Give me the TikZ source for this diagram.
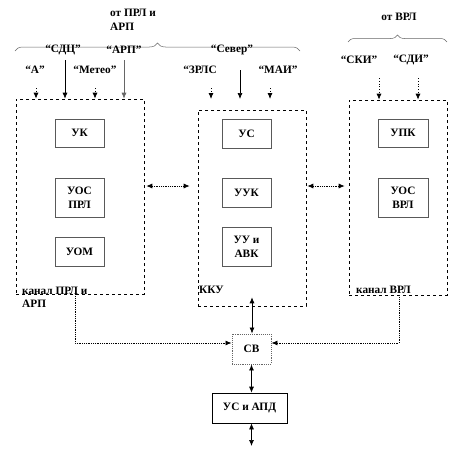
\documentclass[tikz,border=0pt]{standalone}
\usepackage{fontspec}
\setmainfont{Liberation Serif}
\usetikzlibrary{arrows.meta,decorations.pathreplacing,calc}
\begin{document}
\begin{tikzpicture}[x=1pt,y=-1pt,
  font=\bfseries\fontsize{11.3}{14}\selectfont,
  blk/.style={draw=black!65, line width=0.9pt, fill=white, align=center, inner sep=1pt},
  grp/.style={draw, dashed, line width=0.6pt, inner sep=0pt},
  tip/.style={-{Latex[length=6pt,width=5pt]}},
  dtip/.style={{Latex[length=6pt,width=5pt]}-{Latex[length=6pt,width=5pt]}},
  dotl/.style={dotted, line width=0.8pt},
  fdot/.style={densely dotted, line width=0.8pt},
  soll/.style={line width=0.7pt},
  lbl/.style={inner sep=0pt}]
\useasboundingbox (0,0) rectangle (449,455);

% braces and headings
\node[lbl, align=left, anchor=north west] (hprl) at (110,9) {от ПРЛ и\\АРП};
\draw[black!60, line width=0.5pt, decorate, decoration={brace, amplitude=8pt}] (15,51) -- (300,51);
\node[lbl] (hvrl) at (399,17) {от ВРЛ};
\draw[black!60, line width=0.5pt, decorate, decoration={brace, amplitude=7pt}] (348,42) -- (447,42);

% source labels
\node[lbl] (sdc) at (63,50) {“СДЦ”};
\node[lbl] (arp) at (124,50) {“АРП”};
\node[lbl] (a) at (35,70) {“А”};
\node[lbl] (meteo) at (95,70) {“Метео”};
\node[lbl] (sever) at (232,50) {“Север”};
\node[lbl] (zrls) at (200,70) {“ЗРЛС};
\node[lbl] (mai) at (278,70) {“МАИ”};
\node[lbl] (ski) at (359,60) {“СКИ”};
\node[lbl] (sdi) at (411,60) {“СДИ”};

% group boxes
\node[grp, minimum width=128pt, minimum height=195pt] (lbox) at (80,196.5) {};
\node[grp, minimum width=108pt, minimum height=196pt] (cbox) at (252,208) {};
\node[grp, minimum width=98pt, minimum height=195pt] (rbox) at (398,197.5) {};

\node[lbl, anchor=west] (lcap) at (22,291) {канал ПРЛ и};
\node[lbl, anchor=west] (lcap2) at (22,304) {АРП};
\node[lbl, anchor=west] (ccap) at (199,290) {ККУ};
\node[lbl, anchor=west] (rcap) at (356,290) {канал ВРЛ};

% inner blocks
\node[blk, minimum width=49pt, minimum height=28pt] (uk) at (79.5,133) {УК};
\node[blk, minimum width=49pt, minimum height=39pt] (uosprl) at (79.5,197.5) {УОС\\ПРЛ};
\node[blk, minimum width=49pt, minimum height=29pt] (uom) at (79.5,251.5) {УОМ};
\node[blk, minimum width=49pt, minimum height=29pt] (us) at (246.5,133.5) {УС};
\node[blk, minimum width=49pt, minimum height=29pt] (uuk) at (246.5,192.5) {УУК};
\node[blk, minimum width=49pt, minimum height=39pt] (uuavk) at (246.5,246.5) {УУ и\\АВК};
\node[blk, minimum width=50pt, minimum height=28pt] (upk) at (403,133) {УПК};
\node[blk, minimum width=50pt, minimum height=39pt] (uosvrl) at (403,197.5) {УОС\\ВРЛ};

\node[blk, draw=black!60, densely dotted, minimum width=39pt, minimum height=30pt] (sv) at (251.5,349) {СВ};
\node[blk, draw=black, line width=0.7pt, minimum width=75pt, minimum height=30pt] (apd) at (249.5,408) {УС и АПД};

% arrow starts
\coordinate (sa) at (36,88);
\coordinate (ssdc) at (65,60);
\coordinate (smet) at (95,88);
\coordinate (sarp) at (124,60);
\coordinate (szr) at (211,88);
\coordinate (ssev) at (240,70);
\coordinate (smai) at (270,88);
\coordinate (eins) at (0,99);
\coordinate (sski) at (379,78);
\coordinate (ssdi) at (418,78);
\coordinate (my) at (0,186);
\coordinate (bot) at (251.5,446);

% top inputs
\draw[dotl, tip] (sa) -- (sa |- lbox.north);
\draw[soll, tip] (ssdc) -- (ssdc |- lbox.north);
\draw[dotl, tip] (smet) -- (smet |- lbox.north);
\draw[soll, draw=black!60, tip] (sarp) -- (sarp |- lbox.north);
\draw[dotl, tip] (szr) -- (szr |- eins);
\draw[soll, tip] (ssev) -- (ssev |- eins);
\draw[dotl, tip] (smai) -- (smai |- eins);
\draw[dotl, tip] (sski) -- (sski |- rbox.north);
\draw[dotl, tip] (ssdi) -- (ssdi |- rbox.north);

% between groups
\draw[fdot, dtip, shorten <=2pt, shorten >=8pt] (lbox.east |- my) -- (cbox.west |- my);
\draw[fdot, dtip, shorten <=1pt, shorten >=4pt] (cbox.east |- my) -- (rbox.west |- my);

% bottom
\draw[fdot, tip] (lbox.south -| 75,0) |- ($(sv.west)+(0,-6)$);
\draw[fdot, tip] (rbox.south -| 399,0) |- ($(sv.east)+(0,-6)$);
\draw[soll, dtip] ($(cbox.south)+(0,-9)$) -- (sv.north -| cbox.south);
\draw[soll, dtip] (sv.south) -- (sv.south |- apd.north);
\draw[soll, dtip] (sv.south |- apd.south) -- (bot);
\end{tikzpicture}
\end{document}
